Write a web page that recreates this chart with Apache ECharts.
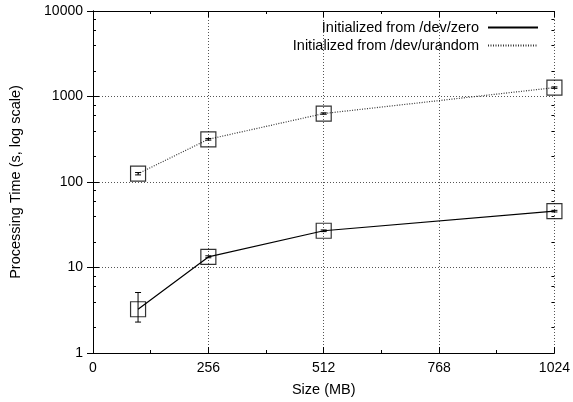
<!DOCTYPE html>
<html>
<head>
<meta charset="utf-8">
<script src="https://cdn.jsdelivr.net/npm/echarts@6/dist/echarts.min.js"></script>
<style>html,body{margin:0;padding:0;background:#fff}#c{width:573px;height:402px}</style>
</head>
<body>
<div id="c"></div>
<script>
const sizes = [100, 256, 512, 1024];
const zeroTime = [3.25, 13.3, 26.9, 45.6];
const zeroLow = [2.3, 13.0, 26.3, 44.6];
const zeroHigh = [5.1, 13.7, 27.5, 46.6];
const urandTime = [125, 316, 632, 1270];
const urandLow = [121, 309, 620, 1245];
const urandHigh = [129, 323, 644, 1295];
const xTicks = [0, 256, 512, 768, 1024];
const yTicks = [1, 10, 100, 1000, 10000];
const seriesNames = ['Initialized from /dev/zero', 'Initialized from /dev/urandom'];

const FONT = 'Liberation Sans, Arial, Helvetica, sans-serif';
const yMinor = [];
for (let d = 1; d < 10000; d *= 10) [2, 4, 6, 8].forEach(m => yMinor.push([0, m * d]));

function errData(xs, lo, hi) { return xs.map((x, i) => [x, lo[i], hi[i]]); }
function errRender(params, api) {
  const x = api.value(0);
  const lo = api.coord([x, api.value(1)]);
  const hi = api.coord([x, api.value(2)]);
  const w = 3;
  const st = { stroke: '#000', lineWidth: 1 };
  return { type: 'group', children: [
    { type: 'line', shape: { x1: lo[0], y1: lo[1], x2: hi[0], y2: hi[1] }, style: st },
    { type: 'line', shape: { x1: lo[0] - w, y1: lo[1], x2: lo[0] + w, y2: lo[1] }, style: st },
    { type: 'line', shape: { x1: hi[0] - w, y1: hi[1], x2: hi[0] + w, y2: hi[1] }, style: st }
  ]};
}
function minorRender(params, api) {
  const v = api.value(1);
  const a = api.coord([0, v]);
  const b = api.coord([1024, v]);
  const st = { stroke: '#000', lineWidth: 1 };
  const y = Math.round(a[1]) + 0.5;
  return { type: 'group', children: [
    { type: 'line', shape: { x1: a[0], y1: y, x2: a[0] + 3, y2: y }, style: st },
    { type: 'line', shape: { x1: b[0], y1: y, x2: b[0] - 3, y2: y }, style: st }
  ]};
}

const chart = echarts.init(document.getElementById('c'), null, { renderer: 'canvas' });
const gridLine = { show: true, lineStyle: { color: '#555', type: [1, 2], width: 1 } };
chart.setOption({
  animation: false,
  backgroundColor: '#fff',
  textStyle: { fontFamily: FONT },
  grid: { left: 93, right: 17, top: 11, bottom: 47 },
  legend: {
    data: seriesNames,
    orient: 'vertical', right: 29, top: 15, align: 'right',
    itemWidth: 50, itemHeight: 10, itemGap: 3,
    itemStyle: { opacity: 0 },
    formatter: n => n + ' ',
    textStyle: { fontFamily: FONT, fontSize: 14.5, color: '#000' }
  },
  xAxis: [{
    type: 'value', min: 0, max: 1024, interval: 256, position: 'bottom',
    name: 'Size (MB)', nameLocation: 'middle', nameGap: 29,
    nameTextStyle: { fontSize: 14.5, color: '#000', fontFamily: FONT },
    axisLine: { show: true, lineStyle: { color: '#000', width: 1 } },
    axisTick: { show: true, inside: true, length: 6, lineStyle: { color: '#000' } },
    minorTick: { show: true, splitNumber: 2, length: 3, lineStyle: { color: '#000' } },
    axisLabel: { fontSize: 14, color: '#000', margin: 8, fontFamily: FONT,
      formatter: v => String(v) },
    splitLine: gridLine
  }, {
    type: 'value', min: 0, max: 1024, interval: 256, position: 'top',
    axisLine: { show: true, lineStyle: { color: '#000', width: 1 } },
    axisTick: { show: true, inside: true, length: 6, lineStyle: { color: '#000' } },
    minorTick: { show: true, splitNumber: 2, length: 3, lineStyle: { color: '#000' } },
    axisLabel: { show: false }, splitLine: { show: false }
  }],
  yAxis: [{
    type: 'log', logBase: 10, min: 1, max: 10000, position: 'left',
    name: 'Processing Time (s, log scale)', nameLocation: 'middle', nameGap: 70,
    nameTextStyle: { fontSize: 14.5, color: '#000', fontFamily: FONT },
    axisLine: { show: true, lineStyle: { color: '#000', width: 1 } },
    axisTick: { show: true, inside: true, length: 6, lineStyle: { color: '#000' } },
    axisLabel: { fontSize: 14, color: '#000', margin: 10, fontFamily: FONT,
      formatter: v => String(Math.round(v)) },
    splitLine: gridLine
  }, {
    type: 'log', logBase: 10, min: 1, max: 10000, position: 'right',
    axisLine: { show: true, lineStyle: { color: '#000', width: 1 } },
    axisTick: { show: true, inside: true, length: 6, lineStyle: { color: '#000' } },
    axisLabel: { show: false }, splitLine: { show: false }
  }],
  series: [
    { name: seriesNames[0], type: 'line', data: sizes.map((x, i) => [x, zeroTime[i]]),
      symbol: 'none', lineStyle: { color: '#000', width: 1.2, type: 'solid' }, itemStyle: { color: '#000' } },
    { name: seriesNames[1], type: 'line', data: sizes.map((x, i) => [x, urandTime[i]]),
      symbol: 'none', lineStyle: { color: '#333', width: 1.2, type: [1, 1.5] }, itemStyle: { color: '#333' } },
    { name: 'zeroPts', type: 'scatter', data: sizes.map((x, i) => [x, zeroTime[i]]),
      symbol: 'rect', symbolSize: 15, itemStyle: { color: 'rgba(0,0,0,0)', borderColor: '#000', borderWidth: 1.2 }, z: 3 },
    { name: 'urandPts', type: 'scatter', data: sizes.map((x, i) => [x, urandTime[i]]),
      symbol: 'rect', symbolSize: 15, itemStyle: { color: 'rgba(0,0,0,0)', borderColor: '#000', borderWidth: 1.2 }, z: 3 },
    { name: 'zeroErr', type: 'custom', renderItem: errRender, data: errData(sizes, zeroLow, zeroHigh), z: 4 },
    { name: 'urandErr', type: 'custom', renderItem: errRender, data: errData(sizes, urandLow, urandHigh), z: 4 },
    { name: 'minorTicks', type: 'custom', renderItem: minorRender, data: yMinor, z: 5, silent: true }
  ]
});
</script>
</body>
</html>
